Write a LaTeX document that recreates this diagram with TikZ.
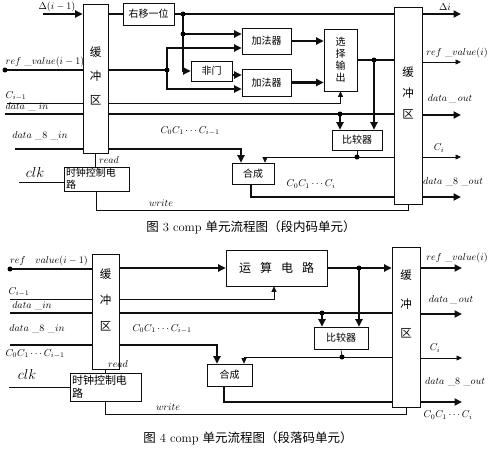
\documentclass[tikz,border=0pt]{standalone}
\usepackage{fontspec}
\usepackage{amsmath}
\usepackage{tikz}
\usetikzlibrary{arrows.meta, positioning, calc}
\newfontfamily\cjk{Noto Sans CJK SC}
\definecolor{mydark}{RGB}{15,15,15}
\tikzset{
  box/.style={rectangle, draw=mydark, line width=0.6pt, inner sep=1pt,
    font=\cjk\fontsize{10}{12}\selectfont, align=center},
  bufbox/.style={rectangle, draw=mydark, line width=0.6pt, inner sep=0pt},
  buftext/.style={font=\cjk\fontsize{11.5}{12}\selectfont, inner sep=0pt, align=center},
  lbl/.style={font=\fontsize{9.8}{10}\selectfont, inner sep=0pt},
  captext/.style={font=\fontsize{12.5}{14}\selectfont, inner sep=0pt},
  bus/.style={line width=2.8pt, color=mydark},
  busarrow/.style={-{Triangle[length=7.5pt,width=7pt]}, line width=2.8pt, color=mydark},
  wire/.style={line width=0.6pt, color=mydark},
  wirearrow/.style={-{Triangle[length=5.5pt,width=5pt]}, line width=0.6pt, color=mydark}
}

\begin{document}
\begin{tikzpicture}[x=1pt, y=-1pt]
  \useasboundingbox (0,0) rectangle (499,453);

  % ===== Figure 3 =====
  % Buffers
  \node[bufbox, minimum width=25pt, minimum height=149pt] (buf_l3) at (95.5, 78.5) {};
  \node[buftext] (buf_l3_txt) at (95.5, 76) {缓\\[12pt]冲\\[12pt]区};
  \node[bufbox, minimum width=28pt, minimum height=197pt] (buf_r3) at (408, 105.5) {};
  \node[buftext] (buf_r3_txt) at (408, 93) {缓\\[9pt]冲\\[9pt]区};

  % Blocks
  \node[box, minimum width=51pt, minimum height=22pt] (shift) at (148.5, 14) {右移一位};
  \node[box, minimum width=41pt, minimum height=20pt] (notgate) at (211.5, 71) {非门};
  \node[box, minimum width=49pt, minimum height=26pt] (adder_a) at (266.5, 41) {加法器};
  \node[box, minimum width=49pt, minimum height=27pt] (adder_b) at (266.5, 82.5) {加法器};
  \node[box, minimum width=33pt, minimum height=62pt] (select) at (340.5, 60) {选\\择\\输\\出};
  \node[box, minimum width=50pt, minimum height=20pt] (cmp3) at (357, 140) {比较器};
  \node[box, minimum width=42pt, minimum height=21pt] (merge3) at (253, 173.5) {合成};
  \node[box, minimum width=65pt, minimum height=24pt, text width=61pt, align=left] (clock3) at (96.5, 179) {时钟控制电\\路};

  % Inputs / outputs
  \coordinate (d_in3) at (43, 14);
  \coordinate (ref_in3) at (5, 70);
  \coordinate (c_in3) at (7, 103);
  \coordinate (din3) at (5, 114);
  \coordinate (d8_in3) at (15, 149);
  \coordinate (clk_in3) at (19, 182);
  \coordinate (do_out3) at (461, 14);
  \coordinate (rv_out3) at (461, 62);
  \coordinate (dout3) at (461, 115);
  \coordinate (ci_out3) at (461, 157);
  \coordinate (d8_out3) at (461, 197);

  % Tap points
  \coordinate (j_sh) at (183, 14);
  \coordinate (j_sh2) at (183, 34);
  \coordinate (j_ref3) at (167, 70);
  \coordinate (j_sel) at (374, 60);
  \coordinate (j_din3) at (340, 114);
  \coordinate (j_cmp3) at (357, 157);

  % Connections
  \draw[busarrow] (d_in3) -- (d_in3 -| buf_l3.west);
  \draw[bus] (buf_l3.east |- shift) -- (shift.west);
  \draw[bus] (shift.east) -- (shift.east -| buf_r3.west);
  \draw[busarrow] (j_sh) |- (notgate.west);
  \draw[busarrow] (j_sh2) -- (j_sh2 -| adder_a.west);
  \draw[busarrow] ([yshift=-4pt]notgate.east) -- ([yshift=-4pt]notgate.east -| adder_b.west);

  \draw[bus] (ref_in3) -- (ref_in3 -| buf_l3.west);
  \draw[bus] (buf_l3.east |- ref_in3) -- (j_ref3);
  \draw[busarrow] (j_ref3) |- ([yshift=-7pt]adder_a.west);
  \draw[busarrow] (j_ref3) |- ([yshift=-6.5pt]adder_b.west);
  \draw[busarrow] (adder_a.east) -- (adder_a.east -| select.west);
  \draw[busarrow] (adder_b.east) -- (adder_b.east -| select.west);
  \draw[bus] (select.east) -- (select.east -| buf_r3.west);
  \draw[busarrow] (j_sel) -- (j_sel |- cmp3.north);

  \draw[wire] (c_in3) -- (c_in3 -| buf_l3.west);
  \draw[wirearrow] (buf_l3.east |- c_in3) -| (select.south);

  \draw[bus] (din3) -- (din3 -| buf_l3.west);
  \draw[bus] (buf_l3.east |- din3) -- (din3 -| buf_r3.west);
  \draw[busarrow] (j_din3) -- (j_din3 |- cmp3.north);

  \draw[wire] (cmp3.south) -- (j_cmp3);
  \draw[wirearrow] (j_cmp3 -| buf_r3.west) -| ([xshift=12pt]merge3.north);

  \draw[bus] (d8_in3) -- (d8_in3 -| buf_l3.west);
  \draw[busarrow] (buf_l3.east |- d8_in3) -| ([xshift=-12pt]merge3.north);
  \draw[bus] ([xshift=-2pt]merge3.south) |- (d8_out3 -| buf_r3.west);

  \draw[busarrow] (buf_r3.east |- do_out3) -- (do_out3);
  \draw[wirearrow] (buf_r3.east |- rv_out3) -- (rv_out3);
  \draw[busarrow] (buf_r3.east |- dout3) -- (dout3);
  \draw[wirearrow] (buf_r3.east |- ci_out3) -- (ci_out3);
  \draw[busarrow] (buf_r3.east |- d8_out3) -- (d8_out3);

  \draw[wire] (clk_in3) -- (clk_in3 -| clock3.west);
  \draw[wire] (buf_l3.south) -- (buf_l3.south |- clock3.north);
  \draw[wire] (clock3.south) -- ++(0, 19) -| (buf_r3.south);

  \fill (ref_in3) circle (2.5pt);
  \foreach \j in {j_sh, j_sh2, j_ref3, j_sel, j_din3} \fill (\j) circle (2.5pt);
  \fill (j_cmp3) circle (2.5pt);

  % Labels
  \node[lbl] (l_d_in3) at (57, 7) {$\Delta(i-1)$};
  \node[lbl] (l_ref_in3) at (45, 62) {$ref\ \_value(i-1)$};
  \node[lbl] (l_c_in3) at (16, 96) {$C_{i-1}$};
  \node[lbl] (l_din3) at (27, 107) {$data\ \_\ in$};
  \node[lbl] (l_d8_in3) at (40, 136) {$data\ \_8\ \_in$};
  \node[lbl] (l_cc3) at (190, 131) {$C_0C_1\cdots C_{i-1}$};
  \node[lbl] (l_read3) at (109, 160) {$read$};
  \node[lbl, font=\fontsize{14}{14}\selectfont] (l_clk3) at (35, 172) {$clk$};
  \node[lbl] (l_write3) at (161, 203) {$write$};
  \node[lbl] (l_co3) at (311, 184) {$C_0C_1\cdots C_i$};
  \node[lbl] (l_do3) at (445, 7) {$\Delta i$};
  \node[lbl] (l_rv3) at (457, 53) {$ref\ \_value(i)$};
  \node[lbl] (l_dout3) at (450, 99) {$data\,\_\,out$};
  \node[lbl] (l_ci3) at (439, 148) {$C_i$};
  \node[lbl] (l_d8_out3) at (453, 182) {$data\ \_8\ \_out$};
  \node[captext] (cap3) at (251, 227) {{\cjk 图} 3 comp {\cjk 单元流程图（段内码单元）}};

  % ===== Figure 4 =====
  % Buffers
  \node[bufbox, minimum width=27pt, minimum height=115pt] (buf_l4) at (105.5, 311.5) {};
  \node[buftext] (buf_l4_txt) at (105.5, 300) {缓\\[14pt]冲\\[14pt]区};
  \node[bufbox, minimum width=28pt, minimum height=160pt] (buf_r4) at (406, 327) {};
  \node[buftext] (buf_r4_txt) at (406, 303.5) {缓\\[17pt]冲\\[17pt]区};

  % Blocks
  \node[box, minimum width=101pt, minimum height=36pt, font=\cjk\fontsize{12}{14}\selectfont] (alu) at (276.5, 268) {运\hspace{9pt}算\hspace{9pt}电\hspace{9pt}路};
  \node[box, minimum width=54pt, minimum height=22pt] (cmp4) at (341, 338) {比较器};
  \node[box, minimum width=45pt, minimum height=22pt] (merge4) at (229.5, 375) {合成};
  \node[box, minimum width=71pt, minimum height=28pt, text width=67pt, align=left, font=\cjk\fontsize{11}{12.5}\selectfont] (clock4) at (105.5, 387) {时钟控制电\\路};

  % Inputs / outputs
  \coordinate (ref_in4) at (10, 269);
  \coordinate (c_in4) at (10, 299);
  \coordinate (din4) at (10, 313);
  \coordinate (d8_in4) at (10, 345);
  \coordinate (clk_in4) at (9, 387);
  \coordinate (rv_out4) at (462, 268);
  \coordinate (dout4) at (462, 314);
  \coordinate (ci_out4) at (462, 358);
  \coordinate (d8_out4) at (462, 402);

  % Tap points
  \coordinate (j_alu) at (359, 268);
  \coordinate (j_din4) at (322, 313);
  \coordinate (j_cmp4) at (342, 357);

  % Connections
  \draw[bus] (ref_in4) -- (ref_in4 -| buf_l4.west);
  \draw[busarrow] (buf_l4.east |- alu) -- (alu.west);
  \draw[busarrow] (alu.east) -- (alu.east -| buf_r4.west);
  \draw[busarrow] (j_alu) -- (j_alu |- cmp4.north);

  \draw[wire] (c_in4) -- (c_in4 -| buf_l4.west);
  \draw[wirearrow] (buf_l4.east |- c_in4) -| ([xshift=-2.5pt]alu.south);

  \draw[bus] (din4) -- (din4 -| buf_l4.west);
  \draw[bus] (buf_l4.east |- din4) -- (din4 -| buf_r4.west);
  \draw[busarrow] (j_din4) -- (j_din4 |- cmp4.north);

  \draw[wire] (cmp4.south) -- (j_cmp4);
  \draw[wirearrow] (j_cmp4 -| buf_r4.west) -| ([xshift=14.5pt]merge4.north);

  \draw[bus] (d8_in4) -- (d8_in4 -| buf_l4.west);
  \draw[busarrow] (buf_l4.east |- d8_in4) -| ([xshift=-12.5pt]merge4.north);
  \draw[bus] ([xshift=-5.5pt]merge4.south) |- (d8_out4 -| buf_r4.west);

  \draw[busarrow] (buf_r4.east |- rv_out4) -- (rv_out4);
  \draw[busarrow] (buf_r4.east |- dout4) -- (dout4);
  \draw[wirearrow] (buf_r4.east |- ci_out4) -- (ci_out4);
  \draw[busarrow] (buf_r4.east |- d8_out4) -- (d8_out4);

  \draw[wire] (clk_in4) -- (clk_in4 -| clock4.west);
  \draw[wire] (buf_l4.south) -- (buf_l4.south |- clock4.north);
  \draw[wire] (clock4.south) -- ++(0, 13) -| (buf_r4.south);

  \fill (ref_in4) circle (2.5pt);
  \foreach \j in {j_alu, j_din4, j_cmp4} \fill (\j) circle (2.5pt);

  % Labels
  \node[lbl] (l_ref_in4) at (49, 261) {$ref\quad value(i-1)$};
  \node[lbl] (l_c_in4) at (19, 292) {$C_{i-1}$};
  \node[lbl] (l_din4) at (32, 306) {$data\ \_in$};
  \node[lbl] (l_d8_in4) at (37, 329) {$data\ \_8\ \_in$};
  \node[lbl] (l_cc4) at (162, 329) {$C_0C_1\cdots C_{i-1}$};
  \node[lbl] (l_cc4b) at (35, 354) {$C_0C_1\cdots C_{i-1}$};
  \node[lbl] (l_read4) at (118, 364) {$read$};
  \node[lbl, font=\fontsize{14}{14}\selectfont] (l_clk4) at (27, 374) {$clk$};
  \node[lbl] (l_write4) at (168, 407) {$write$};
  \node[lbl] (l_rv4) at (457, 258) {$ref\ \_value(i)$};
  \node[lbl] (l_dout4) at (451, 300) {$data\,\_\,out$};
  \node[lbl] (l_ci4) at (435, 348) {$C_i$};
  \node[lbl] (l_d8_out4) at (455, 382) {$data\ \_8\ \_out$};
  \node[lbl] (l_co4) at (448, 415) {$C_0C_1\cdots C_i$};
  \node[captext] (cap4) at (248, 438) {{\cjk 图} 4 comp {\cjk 单元流程图（段落码单元）}};
\end{tikzpicture}
\end{document}
